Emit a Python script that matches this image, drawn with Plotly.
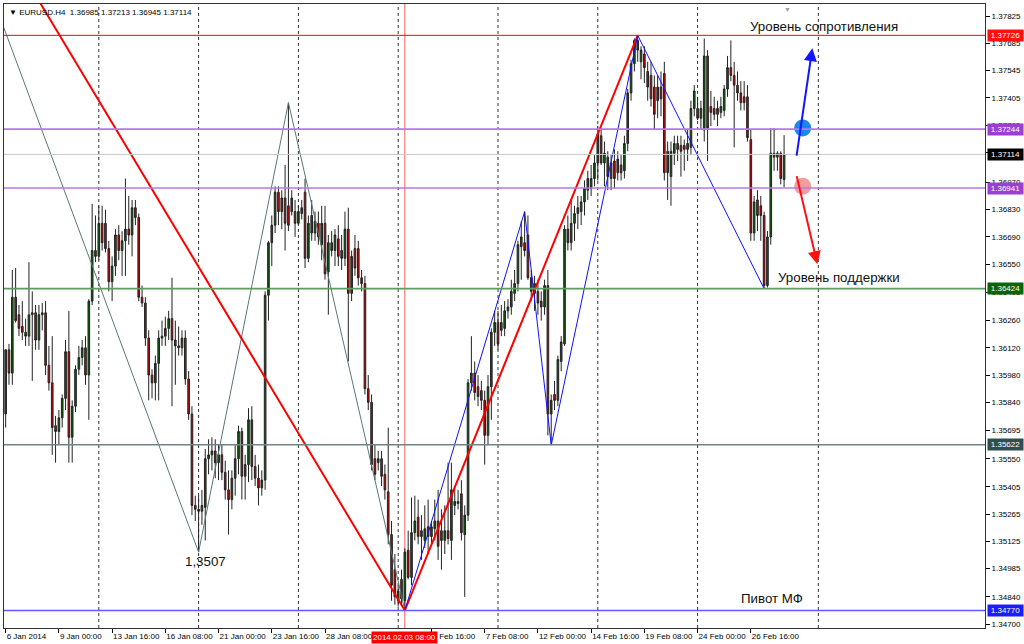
import plotly.graph_objects as go

# ---------------- data (EURUSD H4, bar index counted from 6 Jan 2014 00:00) ----------------
bars = list(range(2, 237))

opens = [
 1.3578, 1.3611, 1.3599, 1.3638, 1.3629, 1.3623, 1.3620, 1.3618,
 1.3629, 1.3630, 1.3616, 1.3629, 1.3630, 1.3603, 1.3594, 1.3572, 1.3569, 1.3576,
 1.3586, 1.3610, 1.3566, 1.3582, 1.3601, 1.3607, 1.3612, 1.3598, 1.3636, 1.3662,
 1.3659, 1.3676, 1.3676, 1.3663, 1.3646, 1.3654, 1.3670, 1.3662, 1.3667, 1.3673,
 1.3670, 1.3684, 1.3679, 1.3638, 1.3635, 1.3617, 1.3598, 1.3594, 1.3604, 1.3617,
 1.3618, 1.3622, 1.3627, 1.3616, 1.3613, 1.3612, 1.3617, 1.3596, 1.3578, 1.3531,
 1.3529, 1.3528, 1.3530, 1.3555, 1.3557, 1.3559, 1.3553, 1.3557, 1.3548, 1.3539,
 1.3534, 1.3545, 1.3555, 1.3569, 1.3546, 1.3552, 1.3575, 1.3551, 1.3545, 1.3540,
 1.3544, 1.3639, 1.3666, 1.3675, 1.3692, 1.3682, 1.3689, 1.3685, 1.3689, 1.3682,
 1.3676, 1.3681, 1.3692, 1.3658, 1.3680, 1.3671, 1.3676, 1.3665, 1.3676, 1.3651,
 1.3666, 1.3662, 1.3668, 1.3662, 1.3658, 1.3673, 1.3640, 1.3663, 1.3663, 1.3648,
 1.3645, 1.3591, 1.3584, 1.3555, 1.3553, 1.3555, 1.3547, 1.3538, 1.3516, 1.3498,
 1.3482, 1.3493, 1.3482, 1.3508, 1.3494, 1.3517, 1.3525, 1.3518, 1.3513, 1.3520,
 1.3515, 1.3519, 1.3523, 1.3518, 1.3513, 1.3518, 1.3513, 1.3531, 1.3533, 1.3537,
 1.3516, 1.3526, 1.3594, 1.3599, 1.3592, 1.3590, 1.3585, 1.3567, 1.3592, 1.3620,
 1.3625, 1.3625, 1.3622, 1.3631, 1.3633, 1.3640, 1.3645, 1.3664, 1.3666, 1.3670,
 1.3648, 1.3640, 1.3641, 1.3636, 1.3633, 1.3644, 1.3578, 1.3588, 1.3585, 1.3605,
 1.3614, 1.3673, 1.3666, 1.3676, 1.3681, 1.3682, 1.3687, 1.3693, 1.3694, 1.3699,
 1.3707, 1.3721, 1.3707, 1.3710, 1.3699, 1.3708, 1.3702, 1.3706, 1.3703, 1.3717,
 1.3743, 1.3758, 1.3770, 1.3759, 1.3763, 1.3754, 1.3752, 1.3746, 1.3739, 1.3746,
 1.3753, 1.3713, 1.3700, 1.3712, 1.3717, 1.3716, 1.3716, 1.3717, 1.3715, 1.3735,
 1.3735, 1.3730, 1.3724, 1.3762, 1.3736, 1.3735, 1.3732, 1.3733, 1.3734, 1.3745,
 1.3756, 1.3752, 1.3747, 1.3743, 1.3741, 1.3741, 1.3719, 1.3671, 1.3688, 1.3685,
 1.3680, 1.3644, 1.3669, 1.3712, 1.3710, 1.3712, 1.36985]

highs = [
 1.3611, 1.3614, 1.3652, 1.3653, 1.3634, 1.3636, 1.3627, 1.3656,
 1.3641, 1.3634, 1.3634, 1.3635, 1.3636, 1.3613, 1.3618, 1.3577, 1.3580, 1.3588,
 1.3616, 1.3631, 1.3585, 1.3603, 1.3613, 1.3616, 1.3618, 1.3637, 1.3686, 1.3680,
 1.3685, 1.3685, 1.3683, 1.3667, 1.3659, 1.3673, 1.3675, 1.3672, 1.3699, 1.3690,
 1.3688, 1.3688, 1.3681, 1.3644, 1.3638, 1.3621, 1.3601, 1.3608, 1.3621, 1.3626,
 1.3628, 1.3631, 1.3648, 1.3626, 1.3623, 1.3621, 1.3621, 1.3600, 1.3582, 1.3536,
 1.3536, 1.3539, 1.3560, 1.3565, 1.3566, 1.3565, 1.3562, 1.3562, 1.3554, 1.3549,
 1.3549, 1.3562, 1.3572, 1.3571, 1.3557, 1.3581, 1.3582, 1.3557, 1.3552, 1.3549,
 1.3641, 1.3667, 1.3680, 1.3695, 1.3695, 1.3693, 1.3706, 1.3738, 1.3693, 1.3688,
 1.3685, 1.3688, 1.3699, 1.3680, 1.3688, 1.3682, 1.3682, 1.3685, 1.3685, 1.3670,
 1.3672, 1.3673, 1.3675, 1.3670, 1.3682, 1.3684, 1.3662, 1.3670, 1.3667, 1.3652,
 1.3649, 1.3598, 1.3588, 1.3562, 1.3559, 1.3559, 1.3552, 1.3571, 1.3523, 1.3506,
 1.3490, 1.3498, 1.3509, 1.3518, 1.3535, 1.3536, 1.3534, 1.3526, 1.3531, 1.3534,
 1.3523, 1.3534, 1.3539, 1.3529, 1.3531, 1.3553, 1.3553, 1.3541, 1.3539, 1.3544,
 1.3531, 1.3596, 1.3618, 1.3605, 1.3598, 1.3595, 1.3590, 1.3598, 1.3622, 1.3631,
 1.3631, 1.3634, 1.3636, 1.3637, 1.3647, 1.3652, 1.3667, 1.3677, 1.3682, 1.3680,
 1.3652, 1.3649, 1.3647, 1.3641, 1.3647, 1.3652, 1.3588, 1.3595, 1.3608, 1.3618,
 1.3675, 1.3680, 1.3688, 1.3685, 1.3690, 1.3690, 1.3698, 1.3703, 1.3706, 1.3711,
 1.3726, 1.3725, 1.3718, 1.3713, 1.3711, 1.3714, 1.3713, 1.3711, 1.3721, 1.3745,
 1.3760, 1.3771, 1.37726, 1.3767, 1.3767, 1.3759, 1.3759, 1.3752, 1.3752, 1.3754,
 1.3759, 1.3718, 1.3718, 1.3721, 1.3721, 1.3721, 1.3719, 1.3724, 1.3739, 1.3747,
 1.3741, 1.3739, 1.3771, 1.3765, 1.3744, 1.3741, 1.3739, 1.3741, 1.3747, 1.3762,
 1.3770, 1.3759, 1.3754, 1.3749, 1.3749, 1.3747, 1.3724, 1.3690, 1.3693, 1.3690,
 1.3682, 1.3672, 1.3725, 1.3725, 1.3713, 1.3713, 1.37213]

lows = [
 1.3571, 1.3593, 1.3593, 1.3625, 1.3618, 1.3616, 1.3613, 1.3613,
 1.3595, 1.3611, 1.3611, 1.3621, 1.3598, 1.3590, 1.3557, 1.3553, 1.3562, 1.3571,
 1.3580, 1.3553, 1.3553, 1.3579, 1.3598, 1.3603, 1.3593, 1.3575, 1.3634, 1.3656,
 1.3657, 1.3662, 1.3661, 1.3641, 1.3636, 1.3649, 1.3657, 1.3649, 1.3649, 1.3665,
 1.3659, 1.3675, 1.3636, 1.3633, 1.3613, 1.3585, 1.3586, 1.3585, 1.3585, 1.3613,
 1.3613, 1.3616, 1.3582, 1.3593, 1.3608, 1.3608, 1.3593, 1.3575, 1.3526, 1.3523,
 1.3507, 1.3521, 1.3513, 1.3547, 1.3549, 1.3545, 1.3544, 1.3544, 1.3534, 1.3516,
 1.3529, 1.3536, 1.3547, 1.3534, 1.3534, 1.3543, 1.3544, 1.3541, 1.3531, 1.3536,
 1.3539, 1.3626, 1.3654, 1.3671, 1.3675, 1.3673, 1.3662, 1.3672, 1.3680, 1.3669,
 1.3675, 1.3678, 1.3653, 1.3656, 1.3667, 1.3667, 1.3665, 1.3657, 1.3647, 1.3629,
 1.3659, 1.3654, 1.3654, 1.3652, 1.3654, 1.3605, 1.3636, 1.3649, 1.3644, 1.3641,
 1.3588, 1.3580, 1.3549, 1.3544, 1.3549, 1.3541, 1.3534, 1.3511, 1.3482, 1.3480,
 1.3479, 1.3480, 1.3477, 1.3493, 1.3490, 1.3513, 1.3511, 1.3503, 1.3509, 1.3506,
 1.3511, 1.3513, 1.3503, 1.3498, 1.3506, 1.3511, 1.3503, 1.3526, 1.3529, 1.3513,
 1.3484, 1.3523, 1.3590, 1.3585, 1.3582, 1.3580, 1.3552, 1.3562, 1.3575, 1.3613,
 1.3611, 1.3618, 1.3618, 1.3627, 1.3629, 1.3636, 1.3641, 1.3647, 1.3659, 1.3647,
 1.3636, 1.3631, 1.3629, 1.3626, 1.3629, 1.3567, 1.3562, 1.3580, 1.3582, 1.3600,
 1.3613, 1.3662, 1.3662, 1.3667, 1.3673, 1.3675, 1.3680, 1.3688, 1.3690, 1.3695,
 1.3698, 1.3706, 1.3695, 1.3693, 1.3693, 1.3694, 1.3698, 1.3698, 1.3699, 1.3713,
 1.3739, 1.3754, 1.3759, 1.3750, 1.3748, 1.3739, 1.3736, 1.3724, 1.3730, 1.3731,
 1.3698, 1.3688, 1.3685, 1.3706, 1.3708, 1.3700, 1.3703, 1.3708, 1.3711, 1.3731,
 1.3729, 1.3724, 1.3718, 1.3708, 1.3726, 1.3729, 1.3726, 1.3730, 1.3731, 1.3741,
 1.3749, 1.3715, 1.3739, 1.3734, 1.3734, 1.3718, 1.3667, 1.3667, 1.3672, 1.3667,
 1.36424, 1.3643, 1.3665, 1.3703, 1.3703, 1.3696, 1.36945]

closes = [
 1.3611, 1.3599, 1.3638, 1.3626, 1.3622, 1.3620, 1.3618, 1.3629,
 1.3630, 1.3616, 1.3629, 1.3630, 1.3603, 1.3594, 1.3571, 1.3569, 1.3576, 1.3586,
 1.3610, 1.3566, 1.3582, 1.3601, 1.3607, 1.3612, 1.3598, 1.3636, 1.3662, 1.3659,
 1.3676, 1.3666, 1.3663, 1.3646, 1.3654, 1.3670, 1.3662, 1.3667, 1.3673, 1.3670,
 1.3684, 1.3679, 1.3638, 1.3635, 1.3617, 1.3598, 1.3594, 1.3604, 1.3617, 1.3618,
 1.3622, 1.3627, 1.3616, 1.3613, 1.3612, 1.3617, 1.3596, 1.3578, 1.3531, 1.3529,
 1.3528, 1.3531, 1.3555, 1.3557, 1.3559, 1.3553, 1.3557, 1.3548, 1.3539, 1.3534,
 1.3545, 1.3555, 1.3569, 1.3546, 1.3552, 1.3575, 1.3551, 1.3545, 1.3540, 1.3544,
 1.3639, 1.3666, 1.3675, 1.3692, 1.3682, 1.3689, 1.3676, 1.3675, 1.3682, 1.3676,
 1.3682, 1.3684, 1.3658, 1.3676, 1.3671, 1.3677, 1.3669, 1.3676, 1.3650, 1.3666,
 1.3662, 1.3670, 1.3659, 1.3658, 1.3673, 1.3640, 1.3659, 1.3653, 1.3648, 1.3645,
 1.3591, 1.3584, 1.3552, 1.3547, 1.3555, 1.3546, 1.3539, 1.3516, 1.3490, 1.3484,
 1.3487, 1.3483, 1.3507, 1.3494, 1.3517, 1.3523, 1.3515, 1.3515, 1.3519, 1.3515,
 1.3520, 1.3523, 1.3510, 1.3513, 1.3518, 1.3514, 1.3539, 1.3533, 1.3532, 1.3517,
 1.3526, 1.3594, 1.3599, 1.3589, 1.3587, 1.3585, 1.3567, 1.3592, 1.3620, 1.3625,
 1.3614, 1.3621, 1.3631, 1.3633, 1.3641, 1.3645, 1.3665, 1.3669, 1.3662, 1.3648,
 1.3641, 1.3645, 1.3635, 1.3633, 1.3644, 1.3578, 1.3585, 1.3585, 1.3606, 1.3615,
 1.3673, 1.3666, 1.3676, 1.3681, 1.3684, 1.3687, 1.3694, 1.3699, 1.3699, 1.3707,
 1.3722, 1.3707, 1.3712, 1.3700, 1.3707, 1.3699, 1.3709, 1.3702, 1.3717, 1.3743,
 1.3758, 1.3770, 1.3765, 1.3765, 1.3756, 1.3746, 1.3740, 1.3732, 1.3746, 1.3740,
 1.3702, 1.3702, 1.3713, 1.3717, 1.3714, 1.3713, 1.3714, 1.3714, 1.3735, 1.3744,
 1.3730, 1.3735, 1.3762, 1.3725, 1.3733, 1.3732, 1.3735, 1.3736, 1.3745, 1.3756,
 1.3752, 1.3747, 1.3743, 1.3738, 1.3738, 1.3720, 1.3671, 1.3687, 1.3680, 1.3680,
 1.3644, 1.3669, 1.3712, 1.3710, 1.3712, 1.3699, 1.37114]

# zigzag vertices (bar index, price)
gray_zz_bars = [-8, 60, 87, 122]
gray_zz_prices = [1.3820, 1.3507, 1.3738, 1.3477]
red_zz_bars = [-23, 122, 192]
red_zz_prices = [1.3890, 1.3477, 1.37726]
blue_zz_bars = [122, 158, 166, 192, 230]
blue_zz_prices = [1.3477, 1.3682, 1.3562, 1.37726, 1.36424]

# horizontal levels
level_prices = [1.37726, 1.37244, 1.37114, 1.36941, 1.36424, 1.35622, 1.34770]
level_line_colors = ["#ff0000", "#b777e8", "#c8c8c8", "#b777e8", "#5c9c5c", "#6f8585", "#5a5aff"]
level_box_colors = ["#ff1010", "#9a3fd2", "#000000", "#9a3fd2", "#0b640b", "#2f4f4f", "#1c1cff"]
level_widths = [1, 1.6, 1, 1.6, 1.6, 1.6, 1.6]

# axis ticks
y_ticks = [1.37825, 1.37685, 1.37545, 1.37405, 1.37265, 1.37125, 1.36970, 1.36830, 1.36690,
           1.36550, 1.36405, 1.36260, 1.36120, 1.35980, 1.35840, 1.35695, 1.35550, 1.35405,
           1.35265, 1.35125, 1.34985, 1.34840, 1.34700]
x_tick_bars = [2, 18, 34, 50, 66, 82, 98, 130, 146, 162, 178, 194, 210, 226]
x_tick_labels = ["6 Jan 2014", "9 Jan 00:00", "13 Jan 16:00", "16 Jan 08:00", "21 Jan 00:00",
                 "23 Jan 16:00", "28 Jan 08:00", "4 Feb 16:00", "7 Feb 08:00", "12 Feb 00:00",
                 "14 Feb 16:00", "19 Feb 08:00", "24 Feb 00:00", "26 Feb 16:00"]
separator_bars = [30, 60, 90, 120, 150, 180, 210, 246.3]
marker_bar = 122
marker_label = "2014.02.03 08:00"

FONT = "Liberation Sans"

fig = go.Figure()

fig.add_trace(go.Candlestick(
    x=bars, open=opens, high=highs, low=lows, close=closes,
    increasing=dict(fillcolor="#0b5e0b", line=dict(color="#222222", width=1)),
    decreasing=dict(fillcolor="#d40000", line=dict(color="#222222", width=1)),
    whiskerwidth=0, showlegend=False, hoverinfo="skip"))

fig.add_trace(go.Scatter(x=gray_zz_bars, y=gray_zz_prices, mode="lines",
                         line=dict(color="#587878", width=1), showlegend=False, hoverinfo="skip"))
fig.add_trace(go.Scatter(x=red_zz_bars, y=red_zz_prices, mode="lines",
                         line=dict(color="#ff0000", width=2), showlegend=False, hoverinfo="skip"))
fig.add_trace(go.Scatter(x=blue_zz_bars, y=blue_zz_prices, mode="lines",
                         line=dict(color="#1010ff", width=1), showlegend=False, hoverinfo="skip"))

# signal circles
fig.add_trace(go.Scatter(x=[241.6], y=[1.3725], mode="markers",
                         marker=dict(size=17, color="#1a86f0"), showlegend=False, hoverinfo="skip"))
fig.add_trace(go.Scatter(x=[241.6], y=[1.3695], mode="markers",
                         marker=dict(size=17, color="#f08c8c", opacity=0.85), showlegend=False, hoverinfo="skip"))

shapes = []
for b in separator_bars:
    shapes.append(dict(type="line", xref="x", yref="paper", x0=b, x1=b, y0=0, y1=1,
                       line=dict(color="#333333", width=1, dash="dot"), layer="below"))
shapes.append(dict(type="line", xref="x", yref="paper", x0=marker_bar, x1=marker_bar, y0=0, y1=1,
                   line=dict(color="#ff5a5a", width=1), layer="below"))
for p, c, w in zip(level_prices, level_line_colors, level_widths):
    shapes.append(dict(type="line", xref="paper", yref="y", x0=0, x1=1, y0=p, y1=p,
                       line=dict(color=c, width=w), layer="above"))

annotations = []
for p, c in zip(level_prices, level_box_colors):
    annotations.append(dict(xref="paper", yref="y", x=1, y=p, xanchor="left", yanchor="middle",
                            xshift=2, text="%.5f" % p, showarrow=False, bgcolor=c,
                            font=dict(family=FONT, size=8, color="white"), borderpad=1, width=33))
annotations.append(dict(xref="x", yref="paper", x=marker_bar, y=0, yanchor="top", xanchor="center",
                        yshift=-3, text=marker_label, showarrow=False, bgcolor="#ff0000",
                        font=dict(family=FONT, size=8, color="white"), borderpad=1))
annotations.append(dict(xref="paper", yref="paper", x=0.003, y=0.997, xanchor="left", yanchor="top",
                        text="\u25BC EURUSD.H4  1.36985 1.37213 1.36945 1.37114", showarrow=False,
                        font=dict(family=FONT, size=8, color="black")))
annotations.append(dict(xref="x", yref="paper", x=237, y=1.0, xanchor="center", yanchor="top",
                        text="\u25BC", showarrow=False, font=dict(family=FONT, size=7, color="#a0a0a0")))
text_font = dict(family=FONT, size=13.3, color="#111111")
annotations.append(dict(xref="x", yref="y", x=62, y=1.3502, text="1,3507", showarrow=False, font=text_font))
annotations.append(dict(xref="x", yref="y", x=248.1, y=1.3777, text="Уровень сопротивления",
                        showarrow=False, font=text_font))
annotations.append(dict(xref="x", yref="y", x=252.5, y=1.3648, text="Уровень поддержки",
                        showarrow=False, font=text_font))
annotations.append(dict(xref="x", yref="y", x=232.5, y=1.3483, text="Пивот МФ",
                        showarrow=False, font=text_font))
# arrows
annotations.append(dict(xref="x", yref="y", axref="x", ayref="y", x=244.5, y=1.3766, ax=239.7, ay=1.3710,
                        text="", showarrow=True, arrowhead=2, arrowsize=1.3, arrowwidth=2,
                        arrowcolor="#1515ff"))
annotations.append(dict(xref="x", yref="y", axref="x", ayref="y", x=246.0, y=1.3655, ax=239.7, ay=1.3701,
                        text="", showarrow=True, arrowhead=2, arrowsize=1.3, arrowwidth=2,
                        arrowcolor="#ff1010"))

fig.update_layout(
    width=1024, height=644, autosize=False,
    margin=dict(l=3, r=38, t=3, b=16),
    paper_bgcolor="white", plot_bgcolor="white",
    shapes=shapes, annotations=annotations,
    font=dict(family=FONT, size=8, color="black"),
    showlegend=False,
)
fig.update_xaxes(range=[1.5, 296.4], tickvals=x_tick_bars, ticktext=x_tick_labels,
                 ticks="outside", ticklen=4, tickcolor="black", ticklabelposition="outside right",
                 tickangle=0, showgrid=False, zeroline=False, showline=True, linecolor="#333333",
                 linewidth=1, mirror=True, rangeslider=dict(visible=False),
                 tickfont=dict(family=FONT, size=8, color="black"))
fig.update_yaxes(range=[1.34680, 1.37887], side="right", tickvals=y_ticks,
                 ticktext=["%.5f" % v for v in y_ticks], ticks="outside", ticklen=4,
                 tickcolor="black", showgrid=False, zeroline=False, showline=True,
                 linecolor="#333333", linewidth=1, mirror=True,
                 tickfont=dict(family=FONT, size=8, color="black"))

fig.write_html("out.html", config={"displayModeBar": False},
               post_script="document.body.style.margin='0px';")
